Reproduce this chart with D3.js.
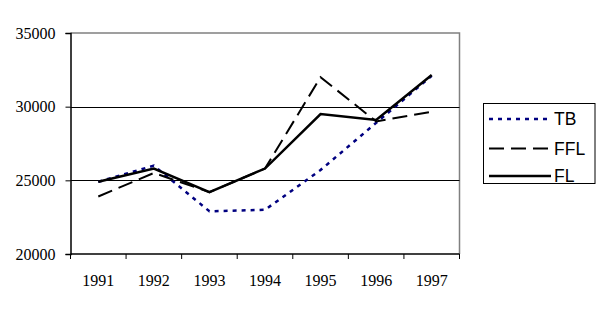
<!DOCTYPE html>
<html>
<head>
<meta charset="utf-8">
<script src="https://cdn.jsdelivr.net/npm/d3@7/dist/d3.min.js"></script>
<style>
  html, body { margin: 0; padding: 0; background: #fff; }
  svg { display: block; }
</style>
</head>
<body>
<svg id="chart" width="606" height="326"></svg>
<script>
// Yearly figures for the three series
const years = ["1991", "1992", "1993", "1994", "1995", "1996", "1997"];
const tbValues  = [24900, 26000, 22900, 23000, 25700, 28900, 32100];
const fflValues = [23900, 25500, 24200, 25800, 32000, 29000, 29650];
const flValues  = [24900, 25800, 24200, 25800, 29500, 29100, 32150];
const yTicks = [20000, 25000, 30000, 35000];

const series = [
  { name: "TB",  values: tbValues,  color: "#000080", width: 2.5, dash: "4,5" },
  { name: "FFL", values: fflValues, color: "#000000", width: 2,   dash: "15,7" },
  { name: "FL",  values: flValues,  color: "#000000", width: 2.5, dash: null }
];

const svg = d3.select("#chart");
const plot = { left: 70.5, right: 459.5, top: 33, bottom: 254 };

const x = d3.scaleBand().domain(years).range([plot.left, plot.right]);
const y = d3.scaleLinear().domain([20000, 35000]).range([plot.bottom, plot.top]);

// Plot-area frame: grey top and right edges
svg.append("path")
  .attr("d", `M${plot.left},${plot.top}H${plot.right}V${plot.bottom}`)
  .attr("fill", "none").attr("stroke", "#808080").attr("stroke-width", 1.5);

// Horizontal gridlines
svg.append("g").selectAll("line")
  .data(yTicks.filter(t => t > 20000 && t < 35000))
  .join("line")
  .attr("x1", plot.left).attr("x2", plot.right)
  .attr("y1", d => Math.round(y(d)) + 0.5).attr("y2", d => Math.round(y(d)) + 0.5)
  .attr("stroke", "#000").attr("stroke-width", 1);

// Y axis
const yAxis = svg.append("g")
  .attr("transform", `translate(${plot.left},0)`)
  .call(d3.axisLeft(y).tickValues(yTicks).tickSize(5).tickPadding(10).tickFormat(d3.format("d")));
yAxis.select(".domain").attr("stroke", "#000").attr("stroke-width", 1.5);
yAxis.selectAll(".tick line").attr("stroke", "#000");
yAxis.selectAll("text")
  .attr("font-family", "'Liberation Serif', 'Times New Roman', serif")
  .attr("font-size", 16).attr("fill", "#000");

// X axis: tick marks at category boundaries, labels centred in each band
const xAxisG = svg.append("g").attr("transform", `translate(0,${plot.bottom})`);
xAxisG.append("line")
  .attr("x1", plot.left).attr("x2", plot.right)
  .attr("stroke", "#000").attr("stroke-width", 1.5);
const boundaries = years.map(d => x(d)).concat([x(years[years.length - 1]) + x.bandwidth()]);
xAxisG.selectAll("line.tick")
  .data(boundaries)
  .join("line").attr("class", "tick")
  .attr("x1", d => d).attr("x2", d => d)
  .attr("y1", 0).attr("y2", 5)
  .attr("stroke", "#000").attr("stroke-width", 1);
xAxisG.selectAll("text")
  .data(years)
  .join("text")
  .attr("x", d => x(d) + x.bandwidth() / 2)
  .attr("y", 32)
  .attr("text-anchor", "middle")
  .attr("font-family", "'Liberation Serif', 'Times New Roman', serif")
  .attr("font-size", 16).attr("fill", "#000")
  .text(d => d);

// Series lines
const line = d3.line()
  .x((d, i) => x(years[i]) + x.bandwidth() / 2)
  .y(d => y(d));

svg.append("g").selectAll("path")
  .data(series)
  .join("path")
  .attr("d", d => line(d.values))
  .attr("fill", "none")
  .attr("stroke", d => d.color)
  .attr("stroke-width", d => d.width)
  .attr("stroke-dasharray", d => d.dash)
  .attr("stroke-linejoin", "miter");

// Legend
const legend = svg.append("g");
legend.append("rect")
  .attr("x", 483.5).attr("y", 103.5).attr("width", 111.5).attr("height", 80)
  .attr("fill", "#fff").attr("stroke", "#000").attr("stroke-width", 1);
const rowY = [119, 148.5, 176];
const item = legend.selectAll("g.item")
  .data(series)
  .join("g").attr("class", "item")
  .attr("transform", (d, i) => `translate(0,${rowY[i]})`);
item.append("line")
  .attr("x1", 489).attr("x2", 551)
  .attr("stroke", d => d.color)
  .attr("stroke-width", d => d.width)
  .attr("stroke-dasharray", d => d.dash);
item.append("text")
  .attr("x", 554).attr("y", 6)
  .attr("font-family", "'Liberation Sans', Arial, sans-serif")
  .attr("font-size", 17.5).attr("fill", "#000")
  .text(d => d.name);
</script>
</body>
</html>
